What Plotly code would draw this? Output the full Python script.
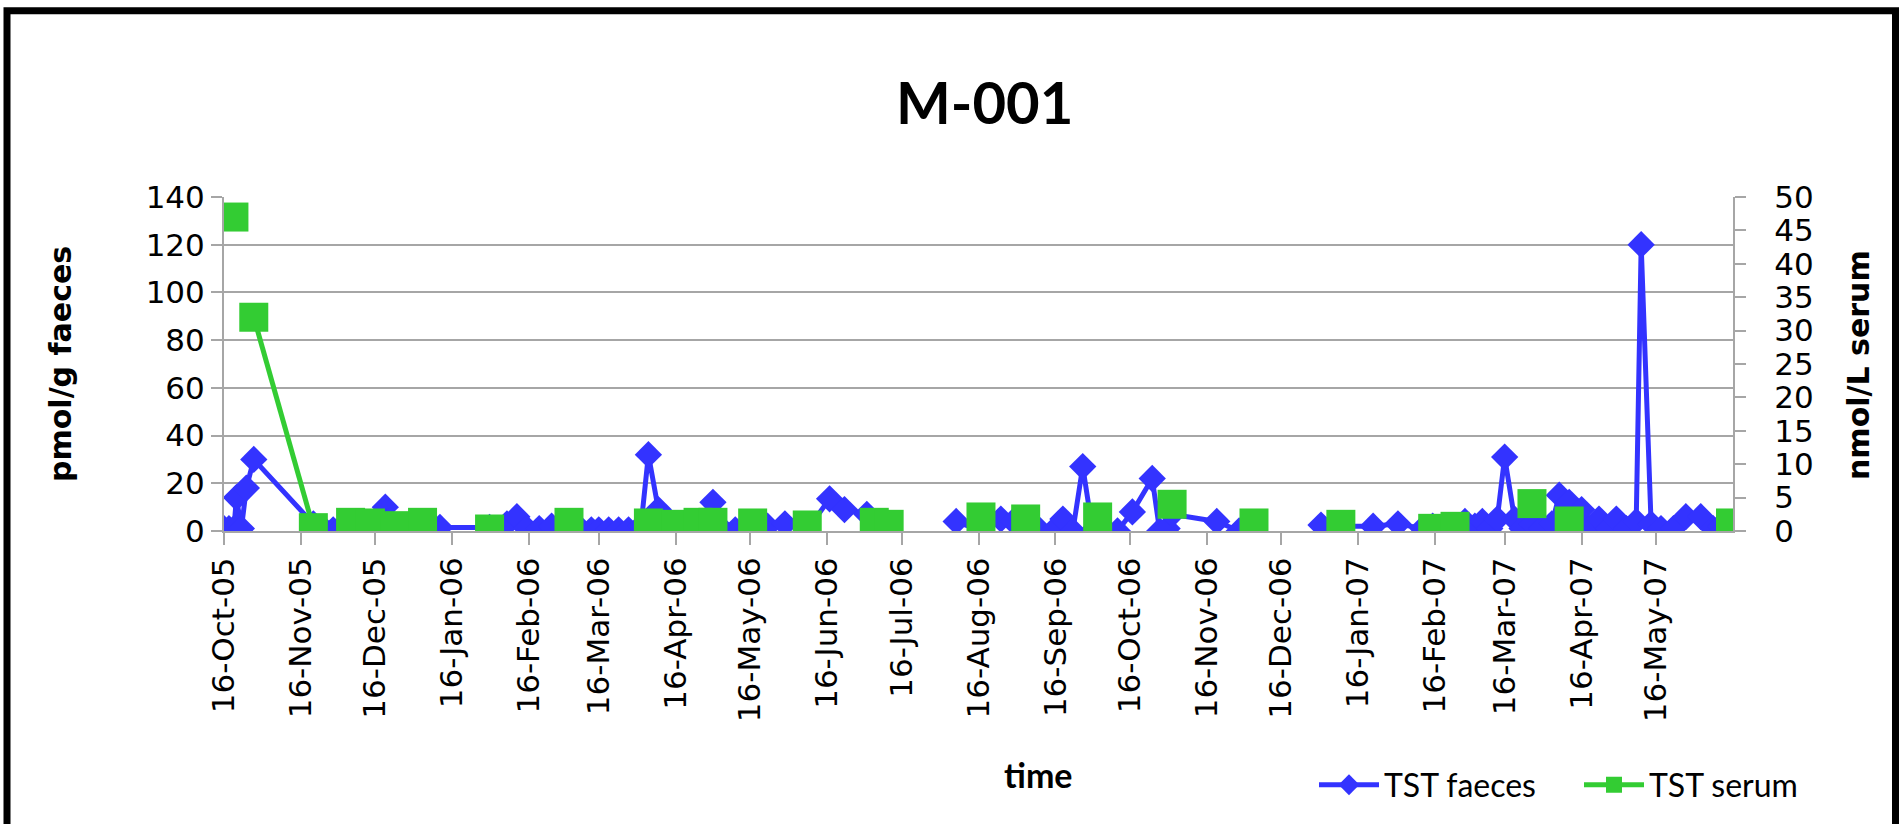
import plotly.graph_objects as go

# ---- data ----
dates = [
    "2005-10-16", "2005-10-18", "2005-10-20", "2005-10-21", "2005-10-23", "2005-10-25", "2005-10-28",
    "2005-11-21", "2005-11-25", "2005-11-29", "2005-12-02", "2005-12-06", "2005-12-10", "2005-12-14",
    "2005-12-20", "2005-12-24", "2005-12-28", "2006-01-01", "2006-01-04", "2006-01-08", "2006-01-11",
    "2006-01-31", "2006-02-07", "2006-02-11", "2006-02-15", "2006-02-20", "2006-02-25", "2006-03-04",
    "2006-03-09", "2006-03-13", "2006-03-16", "2006-03-20", "2006-03-24", "2006-03-28", "2006-04-02",
    "2006-04-05", "2006-04-09", "2006-04-12", "2006-04-16", "2006-04-20", "2006-04-25", "2006-05-01",
    "2006-05-05", "2006-05-10", "2006-05-17", "2006-05-23", "2006-05-30", "2006-06-08", "2006-06-17",
    "2006-06-23", "2006-07-02", "2006-07-05", "2006-07-11",
    "2006-08-07", "2006-08-17", "2006-08-25", "2006-08-30", "2006-09-04", "2006-09-09", "2006-09-15",
    "2006-09-19", "2006-09-23", "2006-09-27", "2006-10-01", "2006-10-03", "2006-10-11", "2006-10-17",
    "2006-10-25", "2006-10-28", "2006-10-31", "2006-11-02", "2006-11-20", "2006-11-29", "2006-12-05",
    "2007-01-01", "2007-01-09", "2007-01-22", "2007-02-01", "2007-02-11", "2007-02-15", "2007-02-20",
    "2007-02-24", "2007-02-28", "2007-03-04", "2007-03-07", "2007-03-10", "2007-03-13", "2007-03-16",
    "2007-03-20", "2007-03-23", "2007-03-27", "2007-03-31", "2007-04-04", "2007-04-07", "2007-04-11",
    "2007-04-16", "2007-04-19", "2007-04-23", "2007-04-27", "2007-04-30", "2007-05-04", "2007-05-08",
    "2007-05-10", "2007-05-14", "2007-05-18", "2007-05-23", "2007-05-28", "2007-06-03", "2007-06-08",
    "2007-06-11", "2007-06-15",
]

tst_faeces = [
    1, 1, 1, 14, 1, 18, 30,
    3, 1, 0.5, 1, 0.5, 1, 0.5,
    10, 1, 0.5, 1, 1.5, 0.5, 1.5,
    1.5, 3, 6, 1, 1, 2, 1,
    0.5, 0.5, 0.5, 0.5, 0.5, 0.5, 2,
    32, 9, 1, 1, 0.5, 1, 12,
    0.5, 0.5, 0.5, 2, 3, 0.5, 13.5,
    9, 7, None, None,
    4, 0, 5, 4, 4, 1, 0,
    5, 0, 27, 0, 3, 0, 8,
    22, 0, 1, 7, 4, 0, None,
    2.5, 2, 2, 3, 1, 2, 1,
    1, 4, 2, 4, 1, 5, 31,
    5, 1, 3, 1, 3, 15, 12,
    9, 1, 5, 1, 5, 1, 4,
    120, 3, 1, 1, 6, 6, 1,
    2, 2,
]

tst_serum = [
    None, None, 47, None, None, None, 32,
    0.5, None, None, None, 1.3, None, 1.2,
    None, 0.8, None, None, 1.3, None, None,
    0.3, None, None, None, None, None, 1.3,
    None, None, None, None, None, None, None,
    1.2, None, None, 1.0, None, 1.3, 1.3,
    None, None, 1.2, None, None, 0.9, None,
    None, None, 1.3, 1.0,
    None, 2.1, None, None, 1.8, None, None,
    None, None, None, None, 2.1, None, None,
    None, None, None, 4.0, None, None, 1.2,
    None, 1.0, None, None, None, 0.4, None,
    0.7, None, None, None, None, None, None,
    None, None, 4.1, None, None, None, 1.5,
    None, None, None, None, None, None, None,
    None, None, None, None, None, None, None,
    None, 1.2,
]

month_ticks = [
    "2005-10-16", "2005-11-16", "2005-12-16", "2006-01-16", "2006-02-16", "2006-03-16",
    "2006-04-16", "2006-05-16", "2006-06-16", "2006-07-16", "2006-08-16", "2006-09-16",
    "2006-10-16", "2006-11-16", "2006-12-16", "2007-01-16", "2007-02-16", "2007-03-16",
    "2007-04-16", "2007-05-16",
]

BLUE = "#3333FF"
GREEN = "#33CC33"
GRID = "#A6A6A6"
TICKFONT = dict(family="DejaVu Sans", size=31, color="#000000")

fig = go.Figure()
fig.add_trace(go.Scatter(
    x=dates, y=tst_faeces, name="TST faeces", mode="lines+markers",
    line=dict(color=BLUE, width=5), connectgaps=False,
    marker=dict(symbol="diamond", size=21, color=BLUE), yaxis="y",
))
fig.add_trace(go.Scatter(
    x=dates, y=tst_serum, name="TST serum", mode="lines+markers",
    line=dict(color=GREEN, width=5), connectgaps=False,
    marker=dict(symbol="square", size=29, color=GREEN), yaxis="y2",
))

W, H = 1899, 824
L, R, T, B = 224, 166, 197, 289
pw, ph = W - L - R, H - T - B


def px_x(x):
    return (x - L) / pw


def px_y(y):
    return (H - B - y) / ph


fig.update_layout(
    width=W, height=H, autosize=False,
    margin=dict(l=L, r=R, t=T, b=B, pad=0),
    paper_bgcolor="white", plot_bgcolor="white",
    showlegend=True,
    legend=dict(
        orientation="h", x=px_x(1314), y=px_y(792), xanchor="left", yanchor="middle",
        font=dict(family="Lato", size=32, color="#000000"),
        bgcolor="rgba(0,0,0,0)", itemwidth=60, tracegroupgap=0,
        entrywidth=190, entrywidthmode="pixels",
    ),
    xaxis=dict(
        type="date", range=["2005-10-16", "2007-06-16"],
        tickmode="array", tickvals=month_ticks, tickformat="%d-%b-%y",
        tickangle=-90, ticks="outside", ticklen=12, tickwidth=2, tickcolor=GRID,
        showline=True, linecolor=GRID, linewidth=2, showgrid=False, zeroline=False,
        tickfont=TICKFONT,
    ),
    yaxis=dict(
        range=[0, 140], tickmode="linear", tick0=0, dtick=20,
        ticks="outside", ticklen=11, tickwidth=2, tickcolor=GRID,
        showline=True, linecolor=GRID, linewidth=2,
        showgrid=True, gridcolor=GRID, gridwidth=2, zeroline=False,
        tickfont=TICKFONT,
    ),
    yaxis2=dict(
        overlaying="y", side="right", range=[0, 50], tickmode="linear", tick0=0, dtick=5,
        ticks="outside", ticklen=11, tickwidth=2, tickcolor=GRID,
        showline=True, linecolor=GRID, linewidth=2, showgrid=False, zeroline=False,
        tickfont=TICKFONT, ticklabelstandoff=22,
    ),
    annotations=[
        dict(text="<b>M-001</b>", xref="paper", yref="paper", x=px_x(984), y=px_y(100),
             xanchor="center", yanchor="middle", showarrow=False,
             font=dict(family="Lato", size=58, color="#000000")),
        dict(text="<b>pmol/g faeces</b>", xref="paper", yref="paper", x=px_x(60), y=px_y(366),
             xanchor="center", yanchor="middle", textangle=-90, showarrow=False,
             font=dict(family="DejaVu Sans", size=30, color="#000000")),
        dict(text="<b>nmol/L serum</b>", xref="paper", yref="paper", x=px_x(1859), y=px_y(367),
             xanchor="center", yanchor="middle", textangle=-90, showarrow=False,
             font=dict(family="DejaVu Sans", size=30, color="#000000")),
        dict(text="<b>time</b>", xref="paper", yref="paper", x=px_x(1038), y=px_y(781),
             xanchor="center", yanchor="middle", showarrow=False,
             font=dict(family="Lato", size=34, color="#000000")),
    ],
    shapes=[
        dict(type="rect", xref="paper", yref="paper",
             x0=px_x(7), x1=px_x(1895.5), y0=px_y(900), y1=px_y(8.5),
             line=dict(color="#000000", width=7), fillcolor="rgba(0,0,0,0)", layer="above"),
    ],
)

fig.write_html("out.html")
